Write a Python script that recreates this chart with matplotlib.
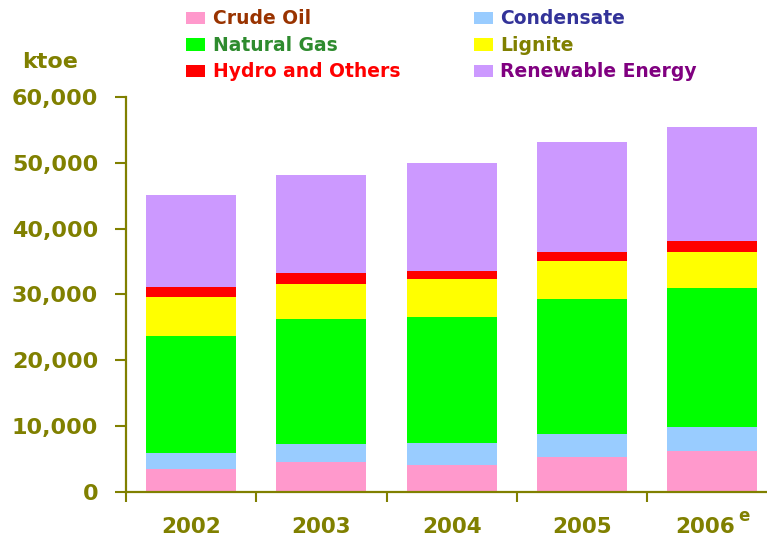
import matplotlib
matplotlib.use("Agg")
import matplotlib.pyplot as plt
import matplotlib.transforms as mtransforms
import numpy as np
from matplotlib.patches import Patch

# values, ktoe
years = ['2002', '2003', '2004', '2005', '2006']
crude_oil = [3400, 4500, 4000, 5300, 6150]
condensate = [2500, 2800, 3350, 3400, 3650]
natural_gas = [17800, 18900, 19200, 20600, 21100]
lignite = [5850, 5300, 5800, 5750, 5600]
hydro = [1600, 1700, 1200, 1450, 1600]
renewable = [13950, 14900, 16400, 16700, 17300]

names = ['Crude Oil', 'Condensate', 'Natural Gas', 'Lignite',
         'Hydro and Others', 'Renewable Energy']
series = [crude_oil, condensate, natural_gas, lignite, hydro, renewable]
colors = ['#FF99CC', '#99CCFF', '#00FF00', '#FFFF00', '#FF0000', '#CC99FF']
text_colors = ['#993300', '#333399', '#2E8B2E', '#808000', '#FF0000', '#800080']

olive = '#808000'

fig = plt.figure(figsize=(7.67, 5.36), dpi=100)
ax = fig.add_axes([0.1643, 0.083, 0.8357, 0.736])

x = np.arange(len(years))
bottom = np.zeros(len(years))
for vals, col in zip(series, colors):
    ax.bar(x, vals, 0.69, bottom=bottom, color=col, edgecolor='none')
    bottom += np.array(vals)

ax.set_xlim(-0.5, 4.42)
ax.set_ylim(0, 60000)

for s in ['top', 'right']:
    ax.spines[s].set_visible(False)
for s in ['left', 'bottom']:
    ax.spines[s].set_color(olive)
    ax.spines[s].set_linewidth(1.6)

ax.set_yticks(range(0, 60001, 10000))
ax.set_yticklabels([f'{v:,}' for v in range(0, 60001, 10000)])
ax.tick_params(axis='y', colors=olive, length=8, width=1.5, pad=12,
               labelsize=16)
ax.set_xticks(x)
ax.set_xticklabels(years)
ax.tick_params(axis='x', which='major', length=0, pad=18, colors=olive,
               labelsize=15.5)
ax.set_xticks(np.arange(-0.5, 4.0, 1.0), minor=True)
ax.tick_params(axis='x', which='minor', length=7, width=1.5, color=olive)
for lab in ax.get_xticklabels() + ax.get_yticklabels():
    lab.set_fontweight('bold')
    lab.set_color(olive)

# last year label sits a little left to make room for the raised "e"
last = ax.get_xticklabels()[-1]
last.set_transform(last.get_transform() +
                   mtransforms.ScaledTranslation(-7 / 100, 0, fig.dpi_scale_trans))
ax.annotate('e', xy=(4, 0), xycoords='data', xytext=(26, -15),
            textcoords='offset pixels', ha='left', va='top', color=olive,
            fontsize=12, fontweight='bold', annotation_clip=False)

fig.text(22 / 767, 1 - 62 / 536, 'ktoe', color=olive, fontsize=16,
         fontweight='bold', va='center', ha='left')

# legend: left column crude/gas/hydro, right column condensate/lignite/renewable
order = [0, 2, 4, 1, 3, 5]
handles = [Patch(facecolor=colors[i], edgecolor='none') for i in order]
leg = fig.legend(handles, [names[i] for i in order], ncol=2,
                 loc='upper left', bbox_to_anchor=(177 / 767, 1 - 0 / 536),
                 frameon=False, prop={'size': 13.5, 'weight': 'bold'},
                 labelcolor=[text_colors[i] for i in order],
                 handlelength=1.0, handleheight=0.65, handletextpad=0.4,
                 columnspacing=3.93, labelspacing=0.4, borderpad=0)

fig.savefig('out.png', dpi=100)
